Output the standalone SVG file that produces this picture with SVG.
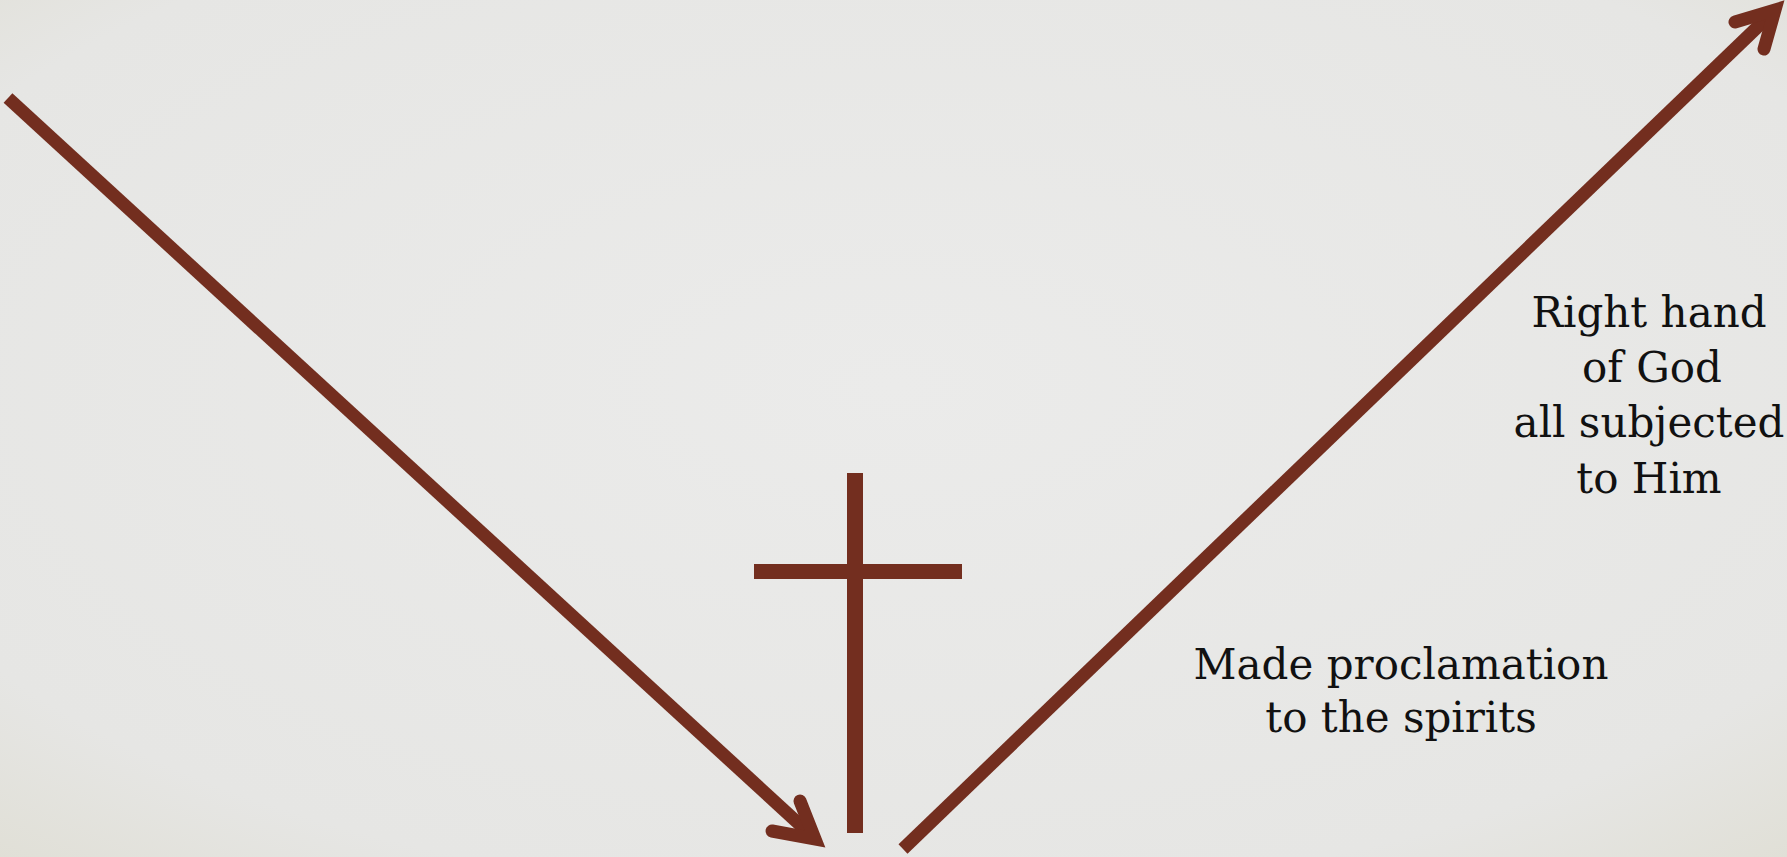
<svg xmlns="http://www.w3.org/2000/svg" width="1787" height="857" viewBox="0 0 1787 857">
<defs>
<radialGradient id="bg" cx="0.5" cy="0.45" r="0.75">
<stop offset="0" stop-color="#ebebea"/>
<stop offset="0.8" stop-color="#e6e6e4"/>
<stop offset="1" stop-color="#e0dfd6"/>
</radialGradient>
<style>
.ln{stroke:#732e1f;stroke-width:13;fill:none}
.hd{stroke:#732e1f;stroke-width:13;fill:none;stroke-linecap:round;stroke-linejoin:miter}
.cr{fill:#732e1f}
.lbl{font-family:"DejaVu Serif","Liberation Serif",serif;font-size:42px;fill:#111;text-anchor:middle}
</style>
</defs>
<rect x="0" y="0" width="1787" height="857" fill="url(#bg)"/>
<g id="connectors">
<line class="ln" x1="8" y1="98" x2="810" y2="834"/>
<polyline class="hd" points="800,801 815,839 772,831"/>
<line class="ln" x1="903" y1="849" x2="1770" y2="15"/>
<polyline class="hd" points="1735,22 1775,10 1764,49"/>
</g>
<g id="cross">
<rect class="cr" x="847" y="473" width="16" height="360"/>
<rect class="cr" x="754" y="564" width="208" height="15"/>
</g>
<g id="label-right">
<text class="lbl" x="1649" y="327">Right hand</text>
<text class="lbl" x="1652" y="382">of God</text>
<text class="lbl" x="1649" y="437">all subjected</text>
<text class="lbl" x="1649" y="493">to Him</text>
</g>
<g id="label-bottom">
<text class="lbl" x="1401" y="679">Made proclamation</text>
<text class="lbl" x="1401" y="732">to the spirits</text>
</g>
</svg>
